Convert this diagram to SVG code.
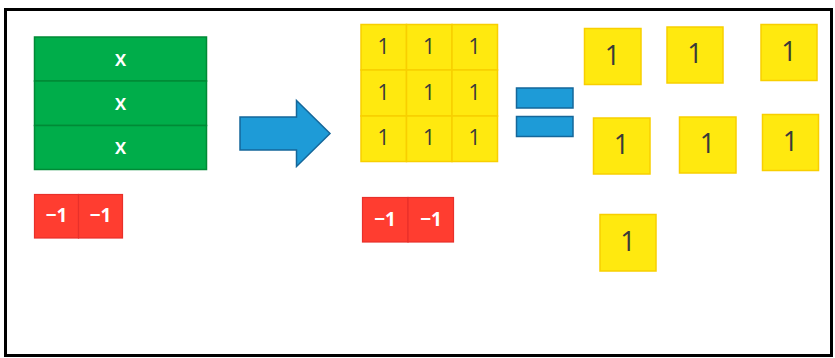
<svg xmlns="http://www.w3.org/2000/svg" width="835" height="358" viewBox="0 0 835 358">
  <style>
    .frame { fill: #ffffff; stroke: #000000; stroke-width: 3; }
    .xtile { fill: #00AD4A; stroke: #008A36; stroke-width: 1.5; }
    .neg { fill: #FF3D30; stroke: #E8302A; stroke-width: 1.2; }
    .unit { fill: #FFE90F; stroke: #F8CF00; stroke-width: 1.5; }
    .blue { fill: #1E9BD7; stroke: #15679A; stroke-width: 1.5; }
    .lbl { font-family: "Open Sans", "DejaVu Sans", sans-serif; text-anchor: middle; dominant-baseline: central; }
    .wx { fill: #ffffff; font-size: 21px; font-weight: 600; }
    .wn { fill: #ffffff; font-size: 19px; font-weight: 700; }
    .one { fill: #3a3a3a; font-size: 21px; font-weight: 500; }
    .oneb { fill: #3a3a3a; font-size: 27px; font-weight: 500; }
  </style>

  <rect class="frame" x="5.5" y="9.5" width="826" height="346"/>

  <!-- three x tiles -->
  <g id="x-tiles">
    <rect class="xtile" x="34.5" y="37" width="172" height="44"/>
    <rect class="xtile" x="34.5" y="81" width="172" height="44.5"/>
    <rect class="xtile" x="34.5" y="125.5" width="172" height="44"/>
    <text class="lbl wx" x="120.5" y="58">x</text>
    <text class="lbl wx" x="120.5" y="102">x</text>
    <text class="lbl wx" x="120.5" y="146">x</text>
  </g>

  <!-- two negative unit tiles (left) -->
  <g id="neg-left">
    <rect class="neg" x="34.5" y="194.5" width="44" height="43.5"/>
    <rect class="neg" x="78.5" y="194.5" width="44" height="43.5"/>
    <text class="lbl wn" x="56.5" y="215">−1</text>
    <text class="lbl wn" x="100.5" y="215">−1</text>
  </g>

  <!-- block arrow -->
  <g id="arrow">
    <path class="blue" d="M240,117 L296.5,117 L296.5,100.5 L330,133.5 L296.5,166.5 L296.5,150 L240,150 Z"/>
  </g>

  <!-- 3 x 3 grid of unit tiles -->
  <g id="unit-grid">
    <rect class="unit" x="361" y="24.5" width="45.5" height="45.5"/>
    <rect class="unit" x="406.5" y="24.5" width="45.5" height="45.5"/>
    <rect class="unit" x="452" y="24.5" width="45.5" height="45.5"/>
    <rect class="unit" x="361" y="70" width="45.5" height="46"/>
    <rect class="unit" x="406.5" y="70" width="45.5" height="46"/>
    <rect class="unit" x="452" y="70" width="45.5" height="46"/>
    <rect class="unit" x="361" y="116" width="45.5" height="45.5"/>
    <rect class="unit" x="406.5" y="116" width="45.5" height="45.5"/>
    <rect class="unit" x="452" y="116" width="45.5" height="45.5"/>
    <text class="lbl one" x="383.5" y="46">1</text>
    <text class="lbl one" x="429" y="46">1</text>
    <text class="lbl one" x="474.5" y="46">1</text>
    <text class="lbl one" x="383.5" y="92">1</text>
    <text class="lbl one" x="429" y="92">1</text>
    <text class="lbl one" x="474.5" y="92">1</text>
    <text class="lbl one" x="383.5" y="137">1</text>
    <text class="lbl one" x="429" y="137">1</text>
    <text class="lbl one" x="474.5" y="137">1</text>
  </g>

  <!-- two negative unit tiles (middle) -->
  <g id="neg-mid">
    <rect class="neg" x="362.5" y="197.5" width="45.5" height="44.5"/>
    <rect class="neg" x="408" y="197.5" width="45.5" height="44.5"/>
    <text class="lbl wn" x="385" y="218.5">−1</text>
    <text class="lbl wn" x="431" y="218.5">−1</text>
  </g>

  <!-- equals sign -->
  <g id="equals">
    <rect class="blue" x="516.5" y="88" width="56.5" height="20"/>
    <rect class="blue" x="516.5" y="116.5" width="56.5" height="20"/>
  </g>

  <!-- loose unit tiles -->
  <g id="unit-1"><rect class="unit" x="584.5" y="28.5" width="56.5" height="56"/><text class="lbl oneb" x="612.5" y="54">1</text></g>
  <g id="unit-2"><rect class="unit" x="667" y="27" width="56" height="56"/><text class="lbl oneb" x="695" y="52.5">1</text></g>
  <g id="unit-3"><rect class="unit" x="761" y="24.5" width="56" height="56"/><text class="lbl oneb" x="789" y="50">1</text></g>
  <g id="unit-4"><rect class="unit" x="593.5" y="118" width="56.5" height="56"/><text class="lbl oneb" x="621.5" y="143.5">1</text></g>
  <g id="unit-5"><rect class="unit" x="679.5" y="117" width="56.5" height="56"/><text class="lbl oneb" x="707.5" y="142.5">1</text></g>
  <g id="unit-6"><rect class="unit" x="762.5" y="114.5" width="56" height="56"/><text class="lbl oneb" x="790.5" y="140">1</text></g>
  <g id="unit-7"><rect class="unit" x="600" y="214.5" width="56" height="56.5"/><text class="lbl oneb" x="628" y="240">1</text></g>
</svg>
